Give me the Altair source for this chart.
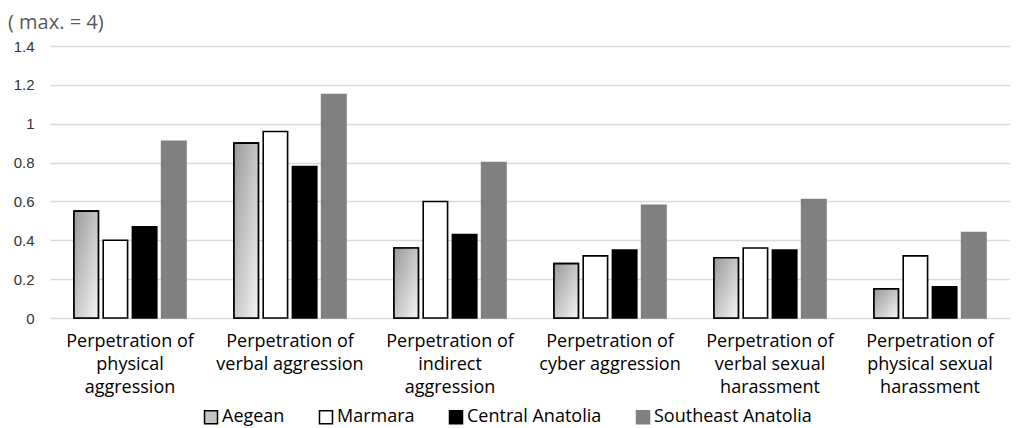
import altair as alt
import pandas as pd

categories = [
    "Perpetration of|physical|aggression",
    "Perpetration of|verbal aggression",
    "Perpetration of|indirect|aggression",
    "Perpetration of|cyber aggression",
    "Perpetration of|verbal sexual|harassment",
    "Perpetration of|physical sexual|harassment",
]
series = ["Aegean", "Marmara", "Central Anatolia", "Southeast Anatolia"]
aegean = [0.55, 0.90, 0.36, 0.28, 0.31, 0.15]
marmara = [0.40, 0.96, 0.60, 0.32, 0.36, 0.32]
central = [0.47, 0.78, 0.43, 0.35, 0.35, 0.16]
southeast = [0.91, 1.15, 0.80, 0.58, 0.61, 0.44]
y_ticks = [0, 0.2, 0.4, 0.6, 0.8, 1, 1.2, 1.4]
subtitle = ["( max. = 4)"]

rows = []
for s, vals in zip(series, [aegean, marmara, central, southeast]):
    for c, v in zip(categories, vals):
        rows.append({"category": c, "series": s, "value": v})
df = pd.DataFrame(rows)

fill_range = ["#c4c4c4", "#ffffff", "#000000", "#808080"]
stroke_range = ["#000000", "#000000", "#000000", "#808080"]

legend = alt.Legend(
    title=None, orient="none", legendX=152, legendY=362, direction="horizontal",
    columns=4, symbolType="square", symbolSize=169, symbolStrokeWidth=1.5,
    labelFont="Open Sans", labelFontSize=18, labelColor="#000000",
    columnPadding=31, labelOffset=2,
)

x_enc = alt.X(
    "category:N", sort=categories,
    scale=alt.Scale(paddingInner=0.3, paddingOuter=0.15),
    axis=alt.Axis(
        title=None, labelExpr="split(datum.label, '|')", labelAngle=0,
        domain=False, ticks=False, labelFont="Open Sans", labelFontSize=18,
        labelColor="#000000", labelPadding=14, labelLineHeight=23,
        labelBaseline="top", labelLimit=300,
    ),
)
xoff_enc = alt.XOffset(
    "series:N", sort=series,
    scale=alt.Scale(domain=series, paddingInner=0.165, paddingOuter=0),
)
y_enc = alt.Y(
    "value:Q", scale=alt.Scale(domain=[0, 1.4]),
    axis=alt.Axis(
        values=y_ticks, format="~g", title=None, domain=False, ticks=False,
        gridColor="#d9d9d9", gridWidth=1.5, labelFont="Liberation Sans",
        labelFontSize=15, labelColor="#333333", labelPadding=16,
    ),
)

base = alt.Chart(df).encode(x=x_enc, xOffset=xoff_enc, y=y_enc)

bars = base.mark_bar(strokeWidth=1.6).encode(
    fill=alt.Fill("series:N", scale=alt.Scale(domain=series, range=fill_range), legend=legend),
    stroke=alt.Stroke("series:N", scale=alt.Scale(domain=series, range=stroke_range), legend=legend),
)

grad = alt.Gradient(
    gradient="linear",
    stops=[alt.GradientStop(color="#999999", offset=0), alt.GradientStop(color="#f5f5f5", offset=1)],
    x1=0, y1=0, x2=1, y2=1,
)
aegean_layer = base.transform_filter(alt.datum.series == "Aegean").mark_bar(
    fill=grad, stroke="#000000", strokeWidth=1.6
)

title_layer = alt.Chart(pd.DataFrame({"t": subtitle})).mark_text(
    align="left", baseline="middle", font="Open Sans", fontSize=20, color="#595959"
).encode(x=alt.value(-42), y=alt.value(-23), text="t:N")

chart = alt.layer(bars, aegean_layer, title_layer).properties(
    width=960, height=272, padding={"left": 0, "top": 5, "right": 0, "bottom": 0},
    background="white",
).configure_view(stroke=None)

chart.save("out.html", embed_options={"renderer": "svg", "actions": False})
